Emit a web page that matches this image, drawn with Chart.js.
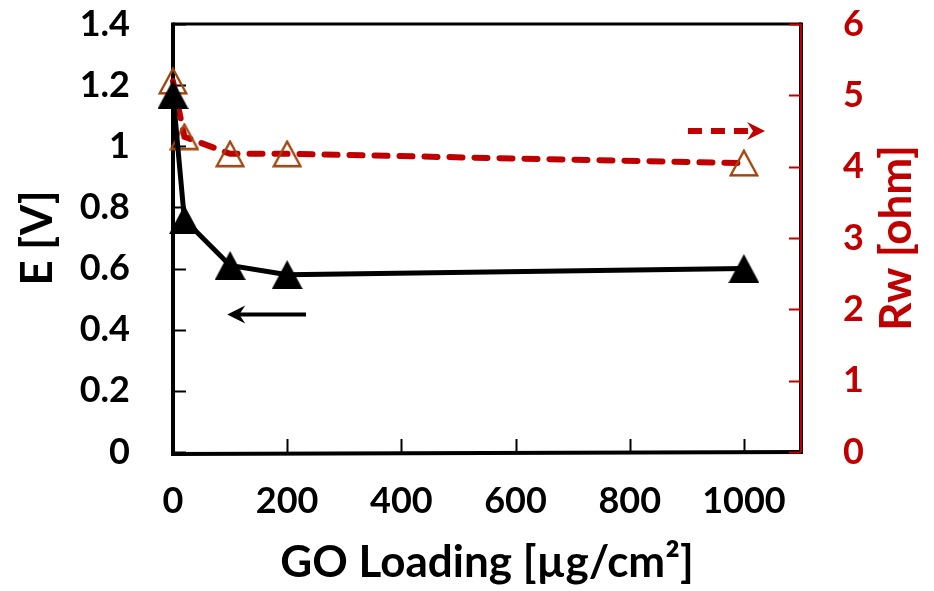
<!DOCTYPE html>
<html lang="en">
<head>
<meta charset="utf-8">
<script src="https://cdn.jsdelivr.net/npm/chart.js@4.4.1/dist/chart.umd.min.js"></script>
<style>
  html, body { margin: 0; padding: 0; background: #fff; }
  #wrap { width: 934px; height: 591px; }
</style>
</head>
<body>
<div id="wrap">
  <canvas id="go-chart" width="934" height="591"></canvas>
</div>

<script>
  // GO loading (x), cell voltage E (left axis), Rw (right axis)
  const loading = [0, 20, 100, 200, 1000];
  const voltage = [1.17, 0.76, 0.61, 0.58, 0.60];
  const rwOhm = [5.2, 4.42, 4.18, 4.18, 4.05];

  const xTicks = [0, 200, 400, 600, 800, 1000];
  const eTicks = [0, 0.2, 0.4, 0.6, 0.8, 1, 1.2, 1.4];
  const rwTicks = [0, 1, 2, 3, 4, 5, 6];

  const RED = '#C00000';
  const BROWN = '#A0450E';
  const FONT = 'Lato, "Open Sans", sans-serif';

  // direction arrows next to each series, in data units of their axis
  const arrowMarks = [
    { axis: 'yE', from: 233, to: 95, at: 0.45, color: '#000', width: 4, dash: [] },
    { axis: 'yRw', from: 902, to: 1037, at: 4.5, color: RED, width: 6, dash: [14, 9] }
  ];

  // triangle markers centred on their bounding box
  function triangle(w, h, fill, stroke, lw) {
    const c = document.createElement('canvas');
    c.width = w; c.height = h;
    const g = c.getContext('2d');
    const p = lw ? lw / 2 + 0.5 : 0;
    g.beginPath();
    g.moveTo(w / 2, p);
    g.lineTo(w - p, h - p);
    g.lineTo(p, h - p);
    g.closePath();
    if (fill) { g.fillStyle = fill; g.fill(); }
    if (stroke) { g.strokeStyle = stroke; g.lineWidth = lw; g.lineJoin = 'miter'; g.stroke(); }
    return c;
  }
  const blackTri = triangle(31, 29, '#000');
  const openTri = triangle(30, 28, null, BROWN, 2.4);

  const frameTicks = {
    id: 'frameTicks',
    beforeDatasetsDraw(chart) {
      const { ctx, chartArea: a, scales } = chart;
      ctx.save();
      ctx.lineCap = 'butt';
      // inner tick marks
      ctx.lineWidth = 2;
      ctx.strokeStyle = '#000';
      eTicks.forEach(v => {
        const y = Math.round(scales.yE.getPixelForValue(v)) + 0.5;
        ctx.beginPath(); ctx.moveTo(a.left, y); ctx.lineTo(a.left + 13, y); ctx.stroke();
      });
      xTicks.forEach(v => {
        const x = Math.round(scales.x.getPixelForValue(v)) + 0.5;
        ctx.beginPath(); ctx.moveTo(x, a.bottom); ctx.lineTo(x, a.bottom - 13); ctx.stroke();
      });
      // frame
      ctx.lineWidth = 3;
      ctx.beginPath(); ctx.moveTo(a.left, a.top); ctx.lineTo(a.right, a.top); ctx.stroke();
      ctx.lineWidth = 4;
      ctx.beginPath(); ctx.moveTo(a.left, a.top - 1.5); ctx.lineTo(a.left, a.bottom + 2); ctx.lineTo(a.right + 2, a.bottom); ctx.stroke();
      ctx.beginPath(); ctx.moveTo(a.right, a.top - 1.5); ctx.lineTo(a.right, a.bottom + 2); ctx.stroke();
      ctx.strokeStyle = RED;
      ctx.lineWidth = 2;
      ctx.beginPath(); ctx.moveTo(a.right, a.top); ctx.lineTo(a.right, a.bottom); ctx.stroke();
      rwTicks.forEach(v => {
        const y = Math.round(scales.yRw.getPixelForValue(v)) + 0.5;
        ctx.beginPath(); ctx.moveTo(a.right, y); ctx.lineTo(a.right - 12, y); ctx.stroke();
      });
      ctx.restore();
    },
    afterDraw(chart) {
      const { ctx, chartArea: a } = chart;
      // right axis title reads bottom to top
      ctx.save();
      ctx.translate(897, (a.top + a.bottom) / 2);
      ctx.rotate(-Math.PI / 2);
      ctx.font = 'bold 44px ' + FONT;
      ctx.fillStyle = RED;
      ctx.textAlign = 'center';
      ctx.textBaseline = 'middle';
      ctx.fillText('Rw [ohm]', 0, 0);
      ctx.restore();
    }
  };

  const arrows = {
    id: 'arrows',
    afterDatasetsDraw(chart) {
      const { ctx, scales } = chart;
      arrowMarks.forEach(m => {
        const x0 = scales.x.getPixelForValue(m.from);
        const x1 = scales.x.getPixelForValue(m.to);
        const y = scales[m.axis].getPixelForValue(m.at);
        const dir = Math.sign(x1 - x0);
        ctx.save();
        ctx.strokeStyle = m.color;
        ctx.fillStyle = m.color;
        ctx.lineWidth = m.width;
        ctx.setLineDash(m.dash);
        ctx.lineCap = 'butt';
        ctx.beginPath(); ctx.moveTo(x0, y); ctx.lineTo(x1 - dir * 10, y); ctx.stroke();
        ctx.setLineDash([]);
        ctx.beginPath();
        ctx.moveTo(x1, y);
        ctx.lineTo(x1 - dir * 18, y - 9);
        ctx.lineTo(x1 - dir * 12, y);
        ctx.lineTo(x1 - dir * 18, y + 9);
        ctx.closePath();
        ctx.fill();
        ctx.restore();
      });
    }
  };

  const pts = (ys) => loading.map((x, i) => ({ x: x, y: ys[i] }));
  const fixTicks = (list) => (s) => { s.ticks = list.map(v => ({ value: v })); };
  // fixed box sizes so the plot area sits where it should
  const fitWidth = (w) => (s) => { s.width = w; s.paddingTop = 0; s.paddingBottom = 0; };
  const tickFont = { family: FONT, size: 36, weight: 'bold' };
  const titleFont = { family: FONT, size: 44, weight: 'bold' };

  new Chart(document.getElementById('go-chart'), {
    type: 'line',
    data: {
      datasets: [
        {
          label: 'E',
          data: pts(voltage),
          yAxisID: 'yE',
          borderColor: '#000',
          borderWidth: 5,
          pointStyle: blackTri,
          pointRadius: 14,
          order: 0,
          clip: false
        },
        {
          label: 'Rw',
          data: pts(rwOhm),
          yAxisID: 'yRw',
          borderColor: RED,
          borderWidth: 6,
          borderDash: [13, 12],
          borderCapStyle: 'round',
          pointStyle: openTri,
          pointRadius: 14,
          order: 1,
          clip: false
        }
      ]
    },
    options: {
      responsive: false,
      devicePixelRatio: 1,
      animation: false,
      layout: { padding: { top: 24, left: 0, right: 0, bottom: 0 } },
      plugins: { legend: { display: false }, tooltip: { enabled: false } },
      scales: {
        x: {
          type: 'linear',
          min: 0,
          max: 1100,
          afterBuildTicks: fixTicks(xTicks),
          afterFit: s => { s.height = 139; s.paddingLeft = 0; s.paddingRight = 0; },
          grid: { display: false, drawTicks: false },
          border: { display: false },
          ticks: { color: '#000', padding: 28, font: tickFont, callback: v => String(v) },
          title: {
            display: true, text: 'GO Loading [µg/cm²]', color: '#000',
            padding: { top: 0, bottom: 2 },
            font: titleFont
          }
        },
        yE: {
          type: 'linear',
          position: 'left',
          min: 0,
          max: 1.4,
          afterBuildTicks: fixTicks(eTicks),
          afterFit: fitWidth(173),
          grid: { display: false, drawTicks: false },
          border: { display: false },
          ticks: { color: '#000', padding: 43, font: tickFont, callback: v => String(v) },
          title: {
            display: true, text: 'E [V]', color: '#000',
            padding: { top: 11, bottom: 0 },
            font: titleFont
          }
        },
        yRw: {
          type: 'linear',
          position: 'right',
          min: 0,
          max: 6,
          afterBuildTicks: fixTicks(rwTicks),
          afterFit: fitWidth(133),
          grid: { display: false, drawTicks: false },
          border: { display: false },
          ticks: { color: RED, padding: 42, font: tickFont, callback: v => String(v) }
        }
      }
    },
    plugins: [frameTicks, arrows]
  });
</script>
</body>
</html>
